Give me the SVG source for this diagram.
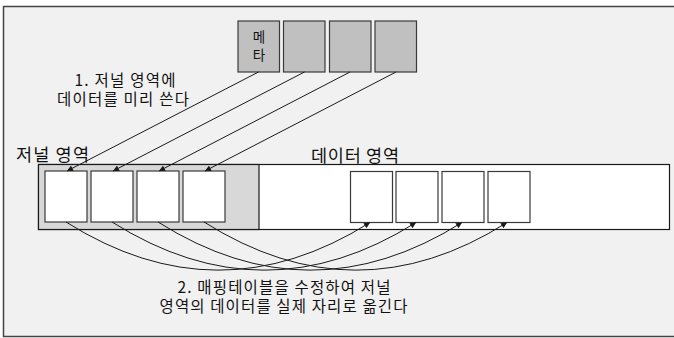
<svg xmlns="http://www.w3.org/2000/svg" width="674" height="338" viewBox="0 0 674 338">
<defs>
<style>
.t{font-family:"Noto Sans CJK KR","Noto Sans",sans-serif;fill:#111}
.meta{fill:#c0c0c0;stroke:#3a3a3a;stroke-width:1.2}
.box{fill:#ffffff;stroke:#3a3a3a;stroke-width:1.2}
.ln{fill:none;stroke:#1a1a1a;stroke-width:1;marker-end:url(#ah)}
</style>
<marker id="ah" viewBox="0 0 10 10" refX="10" refY="5" markerWidth="7" markerHeight="6" markerUnits="userSpaceOnUse" orient="auto">
<path d="M0,0 L10,5 L0,10 z" fill="#1a1a1a"/>
</marker>
</defs>
<rect x="0" y="0" width="674" height="338" fill="#ffffff"/>
<rect id="frame" x="3.5" y="6.5" width="690" height="330" fill="#f1f1f1" stroke="#444" stroke-width="1.5"/>

<g id="meta-blocks">
<g id="meta1"><rect class="meta" x="238" y="21" width="41.5" height="51"/>
<text class="t" x="259" y="42" font-size="13.5" text-anchor="middle">메</text>
<text class="t" x="259" y="59.5" font-size="13.5" text-anchor="middle">타</text></g>
<g id="meta2"><rect class="meta" x="283.5" y="21" width="41.5" height="51"/></g>
<g id="meta3"><rect class="meta" x="329.5" y="21" width="41.5" height="51"/></g>
<g id="meta4"><rect class="meta" x="375" y="21" width="41.5" height="51"/></g>
</g>

<g id="area">
<rect x="38.5" y="164.5" width="631" height="65" fill="#ffffff" stroke="#1a1a1a" stroke-width="1.2"/>
<rect x="38.5" y="164.5" width="220.5" height="65" fill="#d8d8d8" stroke="#1a1a1a" stroke-width="1.2"/>
</g>
<g id="journal-label"><text class="t" x="16" y="160.5" font-size="17.5" textLength="73" lengthAdjust="spacing">저널 영역</text></g>
<g id="data-label"><text class="t" x="311" y="161.5" font-size="17.5" textLength="88" lengthAdjust="spacing">데이터 영역</text></g>

<g id="j1"><rect class="box" x="45" y="171" width="42" height="51"/></g>
<g id="j2"><rect class="box" x="91" y="171" width="42" height="51"/></g>
<g id="j3"><rect class="box" x="137" y="171" width="42" height="51"/></g>
<g id="j4"><rect class="box" x="183" y="171" width="42" height="51"/></g>

<g id="d1"><rect class="box" x="350.5" y="171.5" width="42" height="51"/></g>
<g id="d2"><rect class="box" x="396" y="171.5" width="42" height="51"/></g>
<g id="d3"><rect class="box" x="442" y="171.5" width="42" height="51"/></g>
<g id="d4"><rect class="box" x="488" y="171.5" width="42" height="51"/></g>

<g id="connectors">
<path class="ln" d="M258.5,72 L67,171"/>
<path class="ln" d="M304.5,72 L113,171"/>
<path class="ln" d="M350,72 L159,171"/>
<path class="ln" d="M396,72 L205,171"/>
<path class="ln" d="M66,222 Q218,318 370,222.5"/>
<path class="ln" d="M112,222 Q264,318 416,222.5"/>
<path class="ln" d="M158,222 Q310,318 462,222.5"/>
<path class="ln" d="M204,222 Q356,318 507,222.5"/>
</g>

<g id="label1">
<text class="t" x="74.5" y="86" font-size="15.5" textLength="101" lengthAdjust="spacing">1. 저널 영역에</text>
<text class="t" x="57" y="104.5" font-size="15.5" textLength="132" lengthAdjust="spacing">데이터를 미리 쓴다</text>
</g>
<g id="label2">
<text class="t" x="177.5" y="293" font-size="15.5" textLength="213" lengthAdjust="spacing">2. 매핑테이블을 수정하여 저널</text>
<text class="t" x="159.5" y="312" font-size="15.5" textLength="248" lengthAdjust="spacing">영역의 데이터를 실제 자리로 옮긴다</text>
</g>
</svg>
